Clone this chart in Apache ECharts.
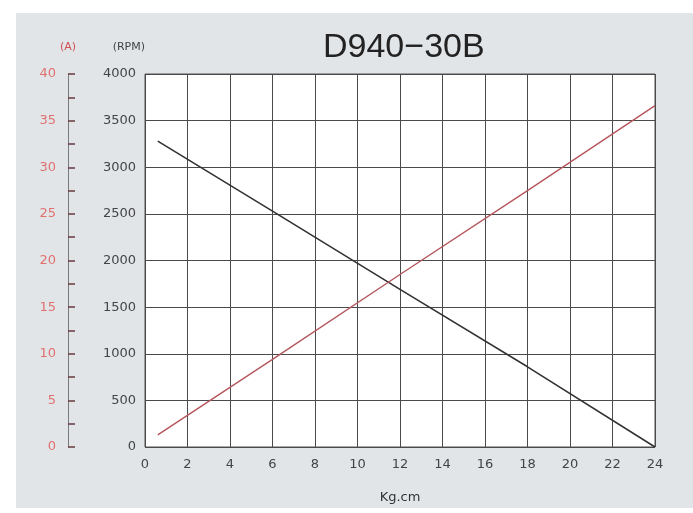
<!DOCTYPE html>
<html>
<head>
<meta charset="utf-8">
<script src="https://cdn.jsdelivr.net/npm/echarts@6/dist/echarts.min.js"></script>
<style>
  html, body { margin: 0; padding: 0; background: #ffffff; }
  #main { width: 693px; height: 513px; }
</style>
</head>
<body>
<div id="main"></div>
<script>
// torque (Kg.cm) vs speed (RPM) and current (A)
var torque = [0.6, 6, 12, 18, 24];
var speed = [3280, 2530, 1690, 860, 0];
var current = [1.3, 9.4, 18.5, 27.5, 36.6];

var chart = echarts.init(document.getElementById('main'));

function plain(v) { return String(v); }

var option = {
  backgroundColor: '#ffffff',
  animation: false,
  graphic: [{
    type: 'rect',
    z: -10,
    shape: { x: 16, y: 13, width: 677, height: 495 },
    style: { fill: '#e2e5e8' }
  }],
  title: {
    text: 'D940\u221230B',
    left: 318,
    top: 26,
    textStyle: {
      fontFamily: 'Liberation Sans',
      fontSize: 34,
      fontWeight: 'normal',
      color: '#222222'
    }
  },
  grid: {
    left: 145,
    right: 38,
    top: 74,
    bottom: 66,
    show: true,
    backgroundColor: '#ffffff',
    borderColor: '#555555',
    borderWidth: 1
  },
  xAxis: {
    type: 'value',
    min: 0,
    max: 24,
    interval: 2,
    name: 'Kg.cm',
    nameLocation: 'middle',
    nameGap: 44,
    nameTextStyle: { color: '#333', fontSize: 13, fontFamily: 'DejaVu Sans' },
    axisLine: { show: false },
    axisTick: { show: false },
    axisLabel: { color: '#444', fontSize: 13, margin: 11, fontFamily: 'DejaVu Sans', formatter: plain },
    splitLine: { show: true, lineStyle: { color: '#4a4a4a', width: 1 } }
  },
  yAxis: [{
    type: 'value',
    min: 0,
    max: 4000,
    interval: 500,
    name: '(RPM)',
    nameLocation: 'end',
    nameGap: 21,
    nameTextStyle: { color: '#444', fontSize: 11, fontFamily: 'DejaVu Sans', align: 'right' },
    axisLine: { show: false },
    axisTick: { show: false },
    axisLabel: { color: '#444', fontSize: 13, margin: 9, fontFamily: 'DejaVu Sans', formatter: plain },
    splitLine: { show: true, lineStyle: { color: '#4a4a4a', width: 1 } }
  }, {
    type: 'value',
    position: 'left',
    offset: 77,
    min: 0,
    max: 40,
    interval: 5,
    name: '(A)',
    nameLocation: 'end',
    nameGap: 21,
    nameTextStyle: { color: '#d05050', fontSize: 11, fontFamily: 'DejaVu Sans', align: 'center' },
    axisLine: { show: true, lineStyle: { color: '#7a7a7a', width: 1 } },
    axisTick: { show: true, inside: true, length: 7, lineStyle: { color: '#6a3a40', width: 1.5 } },
    minorTick: { show: true, splitNumber: 2, length: 7, lineStyle: { color: '#6a3a40', width: 1.5 } },
    axisLabel: { color: '#e07070', fontSize: 13, margin: 12, fontFamily: 'DejaVu Sans', formatter: plain },
    splitLine: { show: false }
  }],
  series: [{
    name: 'RPM',
    type: 'line',
    yAxisIndex: 0,
    data: torque.map(function (t, i) { return [t, speed[i]]; }),
    showSymbol: false,
    lineStyle: { color: '#333333', width: 1.6 }
  }, {
    name: 'A',
    type: 'line',
    yAxisIndex: 1,
    data: torque.map(function (t, i) { return [t, current[i]]; }),
    showSymbol: false,
    lineStyle: { color: '#b5565c', width: 1.4 }
  }]
};

chart.setOption(option);
</script>
</body>
</html>
